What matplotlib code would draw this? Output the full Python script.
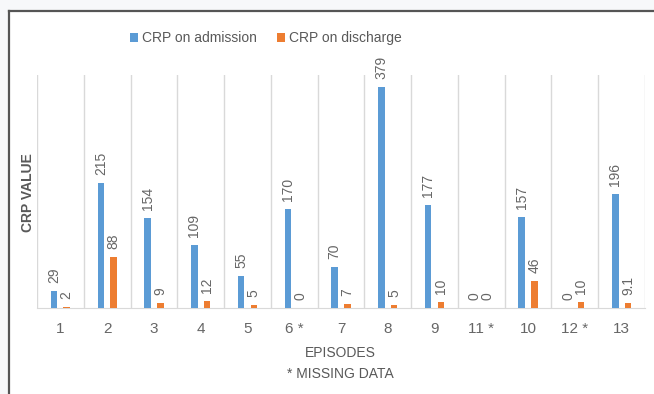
import matplotlib
matplotlib.use("Agg")
import numpy as np
from matplotlib import pyplot as plt
from matplotlib.patches import Rectangle

plt.rcParams['font.family'] = ['Liberation Sans', 'DejaVu Sans']

episodes = ["1", "2", "3", "4", "5", "6 *", "7", "8", "9", "11 *", "10", "12 *", "13"]
crp_admission = [29, 215, 154, 109, 55, 170, 70, 379, 177, 0, 157, 0, 196]
crp_discharge = [2, 88, 9, 12, 5, 0, 7, 5, 10, 0, 46, 10, 9.1]
discharge_labels = ["2", "88", "9", "12", "5", "0", "7", "5", "10", "0", "46", "10", "9.1"]

blue = "#5b9bd5"
orange = "#ed7d31"
grey = "#595959"

fig = plt.figure(figsize=(6.54, 3.94), dpi=100)
fig.patch.set_facecolor("#f7f8fa")

# white chart area with a dark frame on the left and top
fig.patches.append(Rectangle((9 / 654, 0), 1, 1 - 11 / 394, transform=fig.transFigure,
                             facecolor="white", edgecolor="none", zorder=-5))
fig.add_artist(plt.Line2D([9 / 654, 9 / 654], [0, 1 - 11 / 394], transform=fig.transFigure,
                          color="#555555", lw=1.6))
fig.add_artist(plt.Line2D([9 / 654, 1], [1 - 11 / 394, 1 - 11 / 394], transform=fig.transFigure,
                          color="#555555", lw=1.6))

ax = fig.add_axes([37 / 654, 1 - 308 / 394, 608 / 654, 233 / 394])
ax.set_facecolor("none")
ax.set_zorder(2)

x = np.arange(len(episodes))
w = 0.14
off = 0.135
b1 = ax.bar(x - off, crp_admission, w, color=blue, label="CRP on admission", zorder=3)
b2 = ax.bar(x + off, crp_discharge, w, color=orange, label="CRP on discharge", zorder=3)

for rect, v in zip(b1, crp_admission):
    ax.annotate(str(v), (rect.get_x() + rect.get_width() / 2, rect.get_height()),
                xytext=(0, 8), textcoords="offset pixels", rotation=90,
                ha="center", va="bottom", fontsize=10, color="#666666")
for rect, s in zip(b2, discharge_labels):
    ax.annotate(s, (rect.get_x() + rect.get_width() / 2, rect.get_height()),
                xytext=(0, 8), textcoords="offset pixels", rotation=90,
                ha="center", va="bottom", fontsize=10, color="#666666")

ax.set_xlim(-0.5, len(episodes) - 0.5)
ax.set_ylim(0, 400)
for b in np.arange(-0.5, len(episodes), 1.0):
    ax.axvline(b, color="#d9d9d9", lw=1, zorder=1)
for s in ["top", "left", "right"]:
    ax.spines[s].set_visible(False)
ax.spines["bottom"].set_color("#d9d9d9")
ax.set_yticks([])
ax.set_xticks(x)
ax.set_xticklabels(episodes, fontsize=11, color="#666666")
ax.tick_params(axis="x", length=0, pad=10)

fig.text(28 / 654, 1 - 193 / 394, "CRP VALUE", rotation=90, ha="center", va="center",
         fontsize=10, color=grey, fontweight="bold")
fig.text(340 / 654, 1 - 353 / 394, "EPISODES", ha="center", va="center", fontsize=10, color=grey)
fig.text(340 / 654, 1 - 374 / 394, "* MISSING DATA", ha="center", va="center", fontsize=10, color=grey)

fig.legend(handles=[b1, b2], loc="center", bbox_to_anchor=(266 / 654, 1 - 38 / 394),
           ncol=2, frameon=False, fontsize=10, labelcolor=grey, handlelength=0.6,
           handleheight=0.6, handletextpad=0.3, columnspacing=1.4)

fig.savefig("out.png", dpi=100, facecolor=fig.get_facecolor())
